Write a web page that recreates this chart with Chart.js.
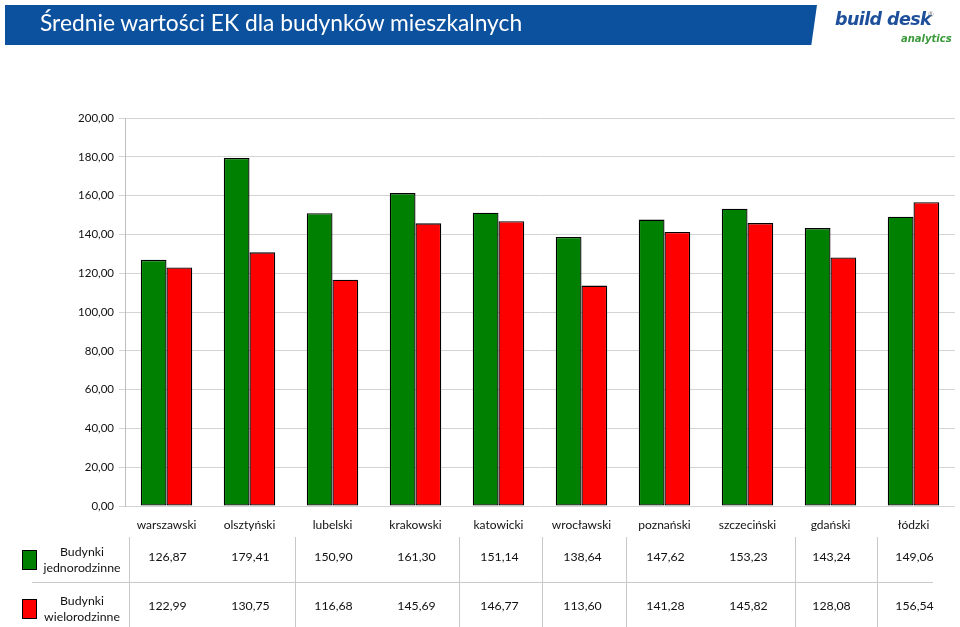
<!DOCTYPE html>
<html><head><meta charset="utf-8">
<script src="https://cdn.jsdelivr.net/npm/chart.js@4/dist/chart.umd.min.js"></script>
<style>
html,body{margin:0;padding:0;background:#fff;width:960px;height:627px;overflow:hidden;font-family:Lato,"Open Sans",sans-serif;}
#wrap{position:relative;width:960px;height:627px;}
#banner{position:absolute;left:5px;top:5px;width:812px;height:40px;background:#0b519e;clip-path:polygon(0 0,100% 0,99.3% 100%,0 100%);}
#title{position:absolute;left:40px;top:8px;color:#fff;font-size:22.8px;font-family:Lato,sans-serif;white-space:nowrap;}
#logo1{position:absolute;left:835px;top:9px;color:#1d4f9a;font-size:17.5px;font-weight:900;font-style:italic;font-family:"DejaVu Sans",sans-serif;letter-spacing:-0.6px;white-space:nowrap;}
#logo2{position:absolute;left:901px;top:33px;color:#3b9a3b;font-size:10px;font-weight:bold;font-style:italic;font-family:"DejaVu Sans",sans-serif;white-space:nowrap;}
#reg{position:absolute;left:928px;top:10px;color:#888;font-size:7px;}
canvas{position:absolute;left:0;top:0;}
</style></head><body>
<div id="wrap">
<canvas id="c" width="960" height="627"></canvas>
<div id="banner"></div>
<div id="title">Średnie wartości EK dla budynków mieszkalnych</div>
<div id="logo1">build desk</div>
<div id="reg">®</div>
<div id="logo2">analytics</div>
</div>
<script>
const categories = ["warszawski","olsztyński","lubelski","krakowski","katowicki","wrocławski","poznański","szczeciński","gdański","łódzki"];
const seriesNames = [["Budynki","jednorodzinne"],["Budynki","wielorodzinne"]];
const jednorodzinne = [126.87,179.41,150.90,161.30,151.14,138.64,147.62,153.23,143.24,149.06];
const wielorodzinne = [122.99,130.75,116.68,145.69,146.77,113.60,141.28,145.82,128.08,156.54];
const yTicks = [0,20,40,60,80,100,120,140,160,180,200];
const colors = ["#008000","#ff0000"];

const fmt = v => v.toFixed(2).replace('.', ',');
const FONT = 'Lato, "Open Sans", sans-serif';

const tablePlugin = {
  id:'table',
  afterDraw(chart){
    const ctx = chart.ctx, x = chart.scales.x;
    const rows = [jednorodzinne, wielorodzinne];
    const rowY = [557, 606];
    ctx.save();
    ctx.strokeStyle = '#c8c8c8'; ctx.lineWidth = 1;
    [129,295,459,542,626,795,877].forEach(px=>{
      ctx.beginPath(); ctx.moveTo(px+0.5,537); ctx.lineTo(px+0.5,627); ctx.stroke();
    });
    ctx.beginPath(); ctx.moveTo(32,582.5); ctx.lineTo(933,582.5); ctx.stroke();
    ctx.font = '12.3px ' + FONT;
    ctx.textAlign = 'center'; ctx.textBaseline = 'middle';
    rows.forEach((arr, r)=>{
      ctx.fillStyle = colors[r]; ctx.strokeStyle = '#000';
      ctx.fillRect(22, rowY[r]-7, 15, 20);
      ctx.strokeRect(22.5, rowY[r]-6.5, 14, 19);
      ctx.fillStyle = '#111';
      ctx.fillText(seriesNames[r][0], 82, rowY[r]-5);
      ctx.fillText(seriesNames[r][1], 82, rowY[r]+11);
      arr.forEach((v,i)=>{
        ctx.fillText(fmt(v), x.getPixelForValue(i)+1, rowY[r]);
      });
    });
    ctx.restore();
  }
};

new Chart(document.getElementById('c'), {
  type:'bar',
  data:{
    labels:categories,
    datasets:[
      {label:seriesNames[0].join(' '), data:jednorodzinne, backgroundColor:colors[0], borderColor:'#000', borderWidth:1.3, borderSkipped:false},
      {label:seriesNames[1].join(' '), data:wielorodzinne, backgroundColor:colors[1], borderColor:'#000', borderWidth:1.3, borderSkipped:false}
    ]
  },
  options:{
    responsive:false, animation:false, devicePixelRatio:1,
    categoryPercentage:0.62, barPercentage:1.0,
    layout:{padding:{left:0,right:5,top:118,bottom:91}},
    plugins:{legend:{display:false},tooltip:{enabled:false}},
    scales:{
      x:{
        grid:{display:false, drawTicks:false},
        border:{display:false},
        ticks:{color:'#111', font:{family:FONT,size:12}, padding:12, maxRotation:0, autoSkip:false},
        afterFit(s){ s.height = 30; }
      },
      y:{
        min:0, max:200,
        afterBuildTicks(s){ s.ticks = yTicks.map(v=>({value:v})); },
        grid:{color:'#d4d4d4', tickLength:6},
        border:{color:'#bfbfbf'},
        ticks:{color:'#111', font:{family:FONT,size:11.5}, padding:5, callback:v=>fmt(v)},
        afterFit(s){ s.width = 125; }
      }
    }
  },
  plugins:[tablePlugin]
});
</script>
</body></html>
